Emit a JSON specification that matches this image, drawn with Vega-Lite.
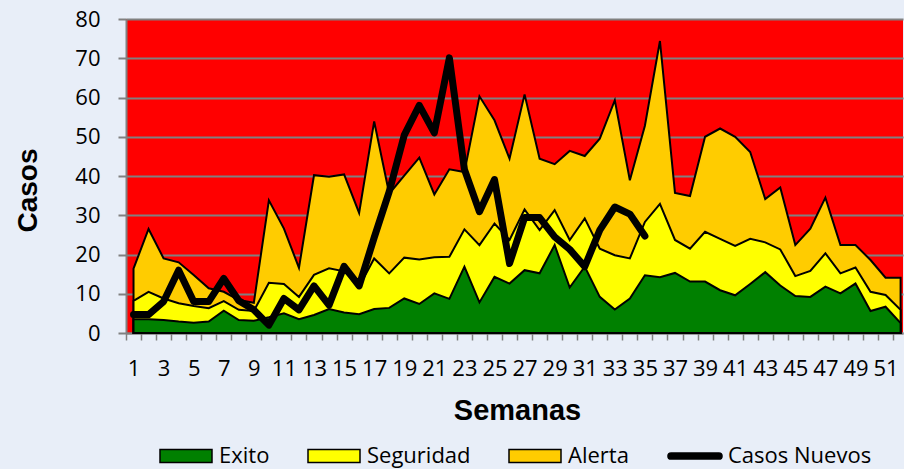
{
  "$schema": "https://vega.github.io/schema/vega-lite/v6.json",
  "width": 777,
  "height": 314,
  "autosize": {"type": "none"},
  "padding": {"left": 126, "top": 19, "right": 1, "bottom": 136},
  "background": "#E8EEF8",
  "config": {"view": {"fill": "#FF0000", "stroke": null}, "font": "Open Sans"},
  "data": {"values": [
    {"semana": 1, "Exito": 3.5, "Seguridad": 8.2, "Alerta": 16.4, "Casos Nuevos": 4.7},
    {"semana": 2, "Exito": 3.5, "Seguridad": 10.5, "Alerta": 26.5, "Casos Nuevos": 4.7},
    {"semana": 3, "Exito": 3.3, "Seguridad": 8.8, "Alerta": 19.0, "Casos Nuevos": 8.0},
    {"semana": 4, "Exito": 2.9, "Seguridad": 7.6, "Alerta": 18.0, "Casos Nuevos": 16.0},
    {"semana": 5, "Exito": 2.6, "Seguridad": 6.9, "Alerta": 14.8, "Casos Nuevos": 8.0},
    {"semana": 6, "Exito": 2.9, "Seguridad": 6.3, "Alerta": 11.4, "Casos Nuevos": 8.0},
    {"semana": 7, "Exito": 5.7, "Seguridad": 8.1, "Alerta": 10.5, "Casos Nuevos": 13.9},
    {"semana": 8, "Exito": 3.3, "Seguridad": 5.9, "Alerta": 8.4, "Casos Nuevos": 8.2},
    {"semana": 9, "Exito": 3.1, "Seguridad": 5.6, "Alerta": 7.7, "Casos Nuevos": 5.9},
    {"semana": 10, "Exito": 4.0, "Seguridad": 12.8, "Alerta": 33.8, "Casos Nuevos": 2.0},
    {"semana": 11, "Exito": 5.0, "Seguridad": 12.5, "Alerta": 26.6, "Casos Nuevos": 8.8},
    {"semana": 12, "Exito": 3.5, "Seguridad": 9.2, "Alerta": 16.6, "Casos Nuevos": 5.9},
    {"semana": 13, "Exito": 4.6, "Seguridad": 14.8, "Alerta": 40.2, "Casos Nuevos": 12.0},
    {"semana": 14, "Exito": 6.1, "Seguridad": 16.5, "Alerta": 39.8, "Casos Nuevos": 7.1},
    {"semana": 15, "Exito": 5.2, "Seguridad": 15.7, "Alerta": 40.4, "Casos Nuevos": 17.0},
    {"semana": 16, "Exito": 4.8, "Seguridad": 11.8, "Alerta": 30.6, "Casos Nuevos": 12.0},
    {"semana": 17, "Exito": 6.1, "Seguridad": 19.0, "Alerta": 53.9, "Casos Nuevos": 24.3},
    {"semana": 18, "Exito": 6.4, "Seguridad": 15.2, "Alerta": 35.5, "Casos Nuevos": 36.0},
    {"semana": 19, "Exito": 8.8, "Seguridad": 19.2, "Alerta": 40.1, "Casos Nuevos": 50.4},
    {"semana": 20, "Exito": 7.4, "Seguridad": 18.7, "Alerta": 44.7, "Casos Nuevos": 58.0},
    {"semana": 21, "Exito": 10.1, "Seguridad": 19.3, "Alerta": 35.3, "Casos Nuevos": 51.0},
    {"semana": 22, "Exito": 8.7, "Seguridad": 19.4, "Alerta": 41.7, "Casos Nuevos": 70.1},
    {"semana": 23, "Exito": 16.9, "Seguridad": 26.4, "Alerta": 41.0, "Casos Nuevos": 41.7},
    {"semana": 24, "Exito": 7.8, "Seguridad": 22.4, "Alerta": 60.3, "Casos Nuevos": 30.9},
    {"semana": 25, "Exito": 14.3, "Seguridad": 27.9, "Alerta": 54.2, "Casos Nuevos": 39.1},
    {"semana": 26, "Exito": 12.6, "Seguridad": 23.7, "Alerta": 44.4, "Casos Nuevos": 17.7},
    {"semana": 27, "Exito": 16.0, "Seguridad": 31.5, "Alerta": 60.8, "Casos Nuevos": 29.4},
    {"semana": 28, "Exito": 15.2, "Seguridad": 26.2, "Alerta": 44.4, "Casos Nuevos": 29.4},
    {"semana": 29, "Exito": 22.4, "Seguridad": 31.3, "Alerta": 43.0, "Casos Nuevos": 24.5},
    {"semana": 30, "Exito": 11.6, "Seguridad": 23.7, "Alerta": 46.4, "Casos Nuevos": 21.3},
    {"semana": 31, "Exito": 16.9, "Seguridad": 29.2, "Alerta": 45.1, "Casos Nuevos": 16.9},
    {"semana": 32, "Exito": 9.2, "Seguridad": 21.5, "Alerta": 49.5, "Casos Nuevos": 26.2},
    {"semana": 33, "Exito": 6.0, "Seguridad": 19.8, "Alerta": 59.3, "Casos Nuevos": 32.1},
    {"semana": 34, "Exito": 8.8, "Seguridad": 19.0, "Alerta": 38.9, "Casos Nuevos": 30.3},
    {"semana": 35, "Exito": 14.7, "Seguridad": 28.3, "Alerta": 52.8, "Casos Nuevos": 24.7},
    {"semana": 36, "Exito": 14.2, "Seguridad": 32.9, "Alerta": 74.4},
    {"semana": 37, "Exito": 15.3, "Seguridad": 23.7, "Alerta": 35.7},
    {"semana": 38, "Exito": 13.1, "Seguridad": 21.5, "Alerta": 34.9},
    {"semana": 39, "Exito": 13.1, "Seguridad": 25.8, "Alerta": 50.0},
    {"semana": 40, "Exito": 10.9, "Seguridad": 24.0, "Alerta": 52.1},
    {"semana": 41, "Exito": 9.6, "Seguridad": 22.2, "Alerta": 50.0},
    {"semana": 42, "Exito": 12.5, "Seguridad": 24.0, "Alerta": 46.1},
    {"semana": 43, "Exito": 15.5, "Seguridad": 23.1, "Alerta": 34.1},
    {"semana": 44, "Exito": 12.1, "Seguridad": 21.3, "Alerta": 37.1},
    {"semana": 45, "Exito": 9.4, "Seguridad": 14.5, "Alerta": 22.4},
    {"semana": 46, "Exito": 9.2, "Seguridad": 15.8, "Alerta": 26.6},
    {"semana": 47, "Exito": 11.8, "Seguridad": 20.3, "Alerta": 34.5},
    {"semana": 48, "Exito": 10.1, "Seguridad": 15.2, "Alerta": 22.4},
    {"semana": 49, "Exito": 12.6, "Seguridad": 16.7, "Alerta": 22.4},
    {"semana": 50, "Exito": 5.6, "Seguridad": 10.5, "Alerta": 18.6},
    {"semana": 51, "Exito": 6.7, "Seguridad": 9.7, "Alerta": 14.1},
    {"semana": 52, "Exito": 2.5, "Seguridad": 5.9, "Alerta": 14.1}
  ]},
  "encoding": {
    "x": {
      "field": "semana", "type": "quantitative",
      "scale": {"domain": [0.5, 52.16], "nice": false, "zero": false},
      "axis": {
        "values": [0.5,1,1.5,2.5,3,3.5,4.5,5,5.5,6.5,7,7.5,8.5,9,9.5,10.5,11,11.5,12.5,13,13.5,14.5,15,15.5,16.5,17,17.5,18.5,19,19.5,20.5,21,21.5,22.5,23,23.5,24.5,25,25.5,26.5,27,27.5,28.5,29,29.5,30.5,31,31.5,32.5,33,33.5,34.5,35,35.5,36.5,37,37.5,38.5,39,39.5,40.5,41,41.5,42.5,43,43.5,44.5,45,45.5,46.5,47,47.5,48.5,49,49.5,50.5,51,51.5],
        "labelExpr": "datum.value % 2 === 1 ? '' + datum.value : ''",
        "tickOpacity": {"condition": {"test": "datum.value % 1 === 0", "value": 0}, "value": 1},
        "grid": false,
        "domainColor": "#808080", "domainWidth": 2,
        "tickColor": "#808080", "tickWidth": 1.5, "tickSize": 7,
        "labelFont": "Open Sans", "labelFontSize": 22, "labelColor": "black",
        "labelPadding": 18, "labelOverlap": false, "labelFlush": false, "labelBound": false,
        "title": "Semanas", "titleFont": "Liberation Sans", "titleFontWeight": "bold",
        "titleFontSize": 29, "titleColor": "black",
        "titleX": 391, "titleY": 77, "titleAlign": "center", "titleBaseline": "middle"
      }
    },
    "y": {
      "field": "valor", "type": "quantitative", "stack": null,
      "scale": {"domain": [0, 80], "nice": false},
      "axis": {
        "values": [0, 10, 20, 30, 40, 50, 60, 70, 80],
        "grid": true, "gridColor": "#808080", "gridWidth": 2,
        "domainColor": "#808080", "domainWidth": 2,
        "tickColor": "#808080", "tickWidth": 2, "tickSize": 8,
        "labelFont": "Open Sans", "labelFontSize": 22, "labelColor": "black", "labelPadding": 18,
        "title": "Casos", "titleFont": "Liberation Sans", "titleFontWeight": "bold",
        "titleFontSize": 28, "titleColor": "black", "titleAngle": 270,
        "titleX": -98, "titleY": 171, "titleAlign": "center", "titleBaseline": "middle"
      }
    },
    "color": {
      "field": "serie", "type": "nominal",
      "scale": {"domain": ["Exito", "Seguridad", "Alerta", "Casos Nuevos"], "range": ["#008000", "#FFFF00", "#FFCC00", "#000000"]},
      "legend": {
        "orient": "none", "legendX": 33, "legendY": 410, "direction": "horizontal",
        "title": null, "padding": 0,
        "symbolSize": 2704, "symbolStrokeWidth": 1.5, "symbolOpacity": 1,
        "labelFont": "Open Sans", "labelFontSize": 22, "labelColor": "black",
        "labelOffset": 6, "columnPadding": 35
      }
    },
    "stroke": {
      "field": "serie", "type": "nominal",
      "scale": {"domain": ["Exito", "Seguridad", "Alerta", "Casos Nuevos"], "range": ["#000000", "#000000", "#000000", "#000000"]},
      "legend": {
        "orient": "none", "legendX": 33, "legendY": 410, "direction": "horizontal",
        "title": null, "padding": 0,
        "symbolSize": 2704, "symbolStrokeWidth": 1.5, "symbolOpacity": 1,
        "labelFont": "Open Sans", "labelFontSize": 22, "labelColor": "black",
        "labelOffset": 6, "columnPadding": 35
      }
    }
  },
  "layer": [
    {
      "transform": [{"fold": ["Alerta"], "as": ["serie", "valor"]}],
      "mark": {"type": "area", "strokeWidth": 2, "opacity": 1}
    },
    {
      "transform": [{"fold": ["Seguridad"], "as": ["serie", "valor"]}],
      "mark": {"type": "area", "strokeWidth": 2, "opacity": 1}
    },
    {
      "transform": [{"fold": ["Exito"], "as": ["serie", "valor"]}],
      "mark": {"type": "area", "strokeWidth": 2, "opacity": 1}
    },
    {
      "transform": [{"fold": ["Casos Nuevos"], "as": ["serie", "valor"]}],
      "mark": {"type": "line", "strokeWidth": 7, "strokeJoin": "round", "strokeCap": "round"},
      "encoding": {"color": {"value": "black"}, "stroke": {"value": "black"}}
    },
    {
      "transform": [{"fold": ["Exito", "Seguridad", "Alerta", "Casos Nuevos"], "as": ["serie", "valor"]}],
      "mark": {"type": "point", "filled": true, "opacity": 0},
      "encoding": {
        "shape": {
          "field": "serie", "type": "nominal",
          "scale": {"domain": ["Exito", "Seguridad", "Alerta", "Casos Nuevos"], "range": ["M-1,-0.25H1V0.25H-1Z", "M-1,-0.25H1V0.25H-1Z", "M-1,-0.25H1V0.25H-1Z", "M-0.92,-0.12H0.92A0.12,0.12,0,0,1,0.92,0.12H-0.92A0.12,0.12,0,0,1,-0.92,-0.12Z"]},
          "legend": {
            "orient": "none", "legendX": 33, "legendY": 410, "direction": "horizontal",
            "title": null, "padding": 0,
            "symbolSize": 2704, "symbolStrokeWidth": 1.5, "symbolOpacity": 1,
            "labelFont": "Open Sans", "labelFontSize": 22, "labelColor": "black",
            "labelOffset": 6, "columnPadding": 35
          }
        }
      }
    }
  ]
}
